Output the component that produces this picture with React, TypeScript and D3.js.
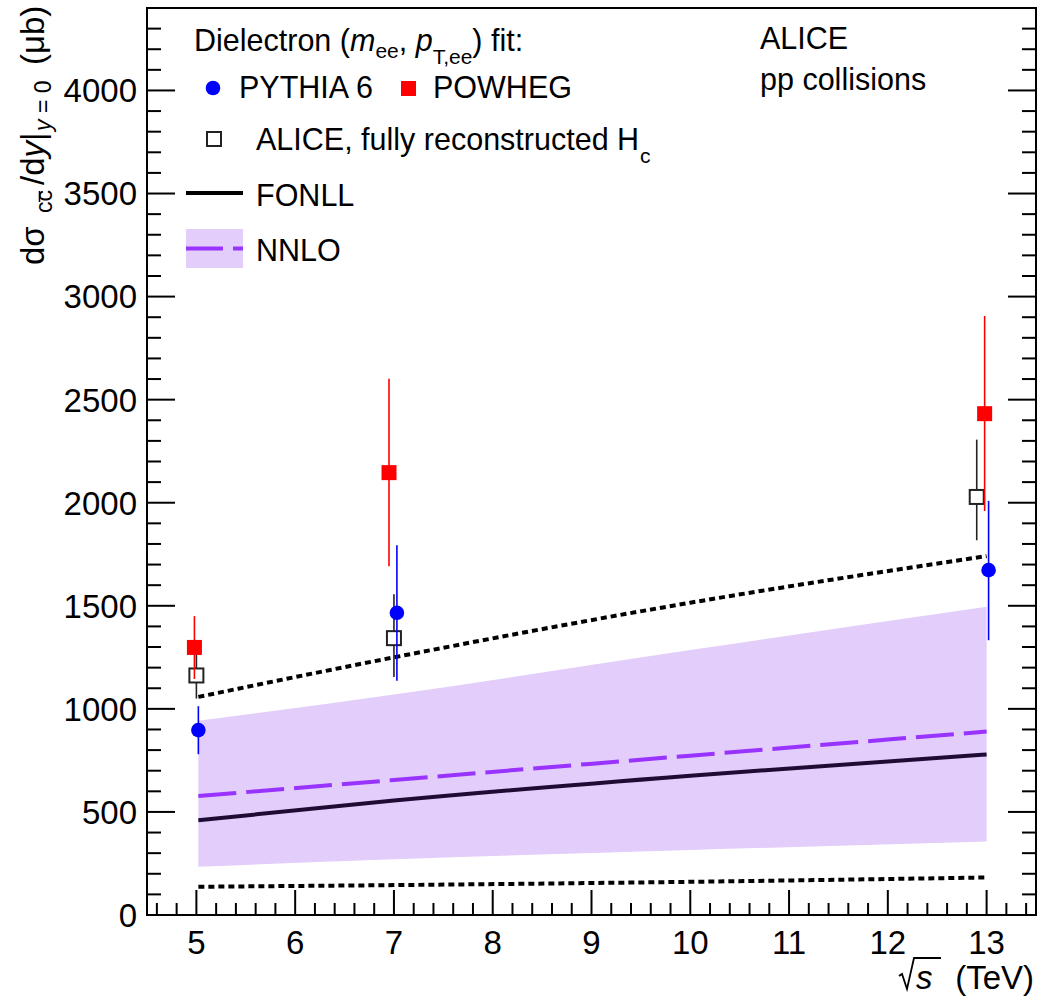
import React from "react";
import * as d3 from "d3";

// ---------- data ----------
const pythiaX = [5.02, 7.03, 13.02];
const pythiaY = [897, 1466, 1673];
const pythiaLo = [780, 1136, 1333];
const pythiaHi = [1013, 1794, 2009];

const powhegX = [4.98, 6.95, 12.98];
const powhegY = [1298, 2146, 2432];
const powhegLo = [1145, 1692, 1960];
const powhegHi = [1450, 2602, 2906];

const aliceX = [5.0, 7.0, 12.9];
const aliceY = [1162, 1343, 2028];
const aliceLo = [1050, 1155, 1818];
const aliceHi = [1301, 1556, 2306];

const theoryX = [5.02, 7, 10, 13];
const fonllCentral = [460, 555, 676, 779];
const fonllUpper = [1058, 1250, 1515, 1741];
const fonllLower = [137, 145, 161, 182];
const nnloCentral = [577, 655, 773, 890];
const nnloUpper = [942, 1070, 1285, 1495];
const nnloLower = [234, 270, 315, 357];

const yMajorTicks = [0, 500, 1000, 1500, 2000, 2500, 3000, 3500, 4000];
const xMajorTicks = [5, 6, 7, 8, 9, 10, 11, 12, 13];

// ---------- layout ----------
const W = 1041;
const H = 997;
const L = 147;
const R = 1036;
const T = 8;
const B = 915;
const FONT = "'Liberation Sans', Arial, Helvetica, sans-serif";
const LEG = 30.5;
const TICK = 33;

export default function App() {
  const x = d3.scaleLinear().domain([4.5, 13.5]).range([L, R]);
  const y = d3.scaleLinear().domain([0, 4400]).range([B, T]);

  const yMinor = d3.range(0, 4401, 100).filter((v) => v % 500 !== 0);
  const xMinor = d3
    .range(46, 135, 2)
    .map((v) => v / 10)
    .filter((v) => Math.abs(v - Math.round(v)) > 1e-6);

  const line = (ys: number[]) =>
    d3
      .line<number>()
      .curve(d3.curveMonotoneX)
      .x((_, i) => x(theoryX[i]))
      .y((v) => y(v))(ys) as string;
  const band = d3
    .area<number>()
    .curve(d3.curveMonotoneX)
    .x((_, i) => x(theoryX[i]))
    .y0((_, i) => y(nnloLower[i]))
    .y1((_, i) => y(nnloUpper[i]))(nnloUpper) as string;

  const errBars = (xs: number[], lo: number[], hi: number[], color: string, key: string) =>
    xs.map((xv, i) => (
      <line key={key + i} x1={x(xv)} x2={x(xv)} y1={y(lo[i])} y2={y(hi[i])} stroke={color} strokeWidth={1.6} />
    ));

  return (
    <svg
      width={W}
      height={H}
      style={{ position: "absolute", left: 0, top: 0, background: "#fff" }}
      fontFamily={FONT}
    >
      <rect x={0} y={0} width={W} height={H} fill="#fff" />

      {/* NNLO band */}
      <path d={band} fill="#e2cdfb" />
      {/* FONLL */}
      <path d={line(fonllUpper)} fill="none" stroke="#000" strokeWidth={4} strokeDasharray="6 4" />
      <path d={line(fonllLower)} fill="none" stroke="#000" strokeWidth={4} strokeDasharray="6 4" />
      <path d={line(fonllCentral)} fill="none" stroke="#1e0c34" strokeWidth={4} />
      {/* NNLO central */}
      <path d={line(nnloCentral)} fill="none" stroke="#9933ff" strokeWidth={4} strokeDasharray="38 10" />

      {/* ALICE */}
      {errBars(aliceX, aliceLo, aliceHi, "#222", "ae")}
      {aliceX.map((xv, i) => (
        <rect key={"a" + i} x={x(xv) - 7} y={y(aliceY[i]) - 7} width={14} height={14} fill="#fff" stroke="#222" strokeWidth={2} />
      ))}
      {/* PYTHIA */}
      {errBars(pythiaX, pythiaLo, pythiaHi, "#0000ff", "pe")}
      {pythiaX.map((xv, i) => (
        <circle key={"p" + i} cx={x(xv)} cy={y(pythiaY[i])} r={7.3} fill="#0000ff" />
      ))}
      {/* POWHEG */}
      {errBars(powhegX, powhegLo, powhegHi, "#ff0000", "we")}
      {powhegX.map((xv, i) => (
        <rect key={"w" + i} x={x(xv) - 7.5} y={y(powhegY[i]) - 7.5} width={15} height={15} fill="#ff0000" />
      ))}

      {/* axes frame */}
      <rect x={L} y={T} width={R - L} height={B - T} fill="none" stroke="#000" strokeWidth={2} />
      {yMajorTicks.map((v) => (
        <g key={"ym" + v}>
          <line x1={L} x2={L + 28} y1={y(v)} y2={y(v)} stroke="#000" strokeWidth={2} />
          <line x1={R} x2={R - 28} y1={y(v)} y2={y(v)} stroke="#000" strokeWidth={2} />
          <text x={137} y={y(v)} dy="0.36em" textAnchor="end" fontSize={TICK}>
            {v}
          </text>
        </g>
      ))}
      {yMinor.map((v) => (
        <g key={"yn" + v}>
          <line x1={L} x2={L + 14} y1={y(v)} y2={y(v)} stroke="#000" strokeWidth={2} />
          <line x1={R} x2={R - 14} y1={y(v)} y2={y(v)} stroke="#000" strokeWidth={2} />
        </g>
      ))}
      {xMajorTicks.map((v) => (
        <g key={"xm" + v}>
          <line x1={x(v)} x2={x(v)} y1={B} y2={B - 25} stroke="#000" strokeWidth={2} />
          <text x={x(v)} y={954} textAnchor="middle" fontSize={TICK}>
            {v}
          </text>
        </g>
      ))}
      {xMinor.map((v) => (
        <line key={"xn" + v} x1={x(v)} x2={x(v)} y1={B} y2={B - 12} stroke="#000" strokeWidth={2} />
      ))}

      {/* x title: sqrt(s) (TeV) */}
      <path d="M899,976 L902,974 L907,989 L914,958 L941,958" fill="none" stroke="#000" strokeWidth={1.8} />
      <text x={916} y={989} fontSize={TICK} fontStyle="italic">s</text>
      <text x={1034} y={989} textAnchor="end" fontSize={TICK}>(TeV)</text>

      {/* y title */}
      <text transform="translate(44,265) rotate(-90)" fontSize={33}>
        <tspan x={0} y={0}>dσ</tspan>
        <tspan x={52} y={8} fontSize={23}>cc</tspan>
        <tspan x={80} y={0}>/d</tspan>
        <tspan fontStyle="italic">y</tspan>
        <tspan>|</tspan>
        <tspan x={134} y={7} fontSize={23} fontStyle="italic">y</tspan>
        <tspan fontSize={23}> = 0</tspan>
        <tspan x={200} y={0}>(μb)</tspan>
      </text>
      {/* overline for anti-charm */}
      <line x1={39.5} x2={39.5} y1={202} y2={191} stroke="#000" strokeWidth={1.5} />

      {/* legend */}
      <text x={194} y={51} fontSize={LEG}>
        <tspan>Dielectron (</tspan>
        <tspan fontStyle="italic">m</tspan>
        <tspan fontSize={21} dy={7}>ee</tspan>
        <tspan dy={-7}>, </tspan>
        <tspan fontStyle="italic">p</tspan>
        <tspan fontSize={21} dy={13}>T,ee</tspan>
        <tspan dy={-13}>) fit:</tspan>
      </text>
      <circle cx={213} cy={88} r={7.3} fill="#0000ff" />
      <text x={239} y={98} fontSize={LEG}>PYTHIA 6</text>
      <rect x={401} y={81} width={15} height={15} fill="#ff0000" />
      <text x={433} y={98} fontSize={LEG}>POWHEG</text>
      <rect x={207} y={132} width={14} height={14} fill="#fff" stroke="#222" strokeWidth={2} />
      <text x={256} y={150} fontSize={LEG}>
        <tspan>ALICE, fully reconstructed H</tspan>
        <tspan fontSize={21} dy={13} dx={1}>c</tspan>
      </text>
      <line x1={186} x2={243} y1={193} y2={193} stroke="#000" strokeWidth={4} />
      <text x={256} y={206} fontSize={LEG}>FONLL</text>
      <rect x={186} y={229} width={57} height={39} fill="#e2cdfb" />
      <line x1={186} x2={243} y1={248.5} y2={248.5} stroke="#9933ff" strokeWidth={4} strokeDasharray="37 10" />
      <text x={256} y={261} fontSize={LEG}>NNLO</text>

      <text x={760} y={49} fontSize={LEG}>ALICE</text>
      <text x={760} y={90} fontSize={LEG}>pp collisions</text>
    </svg>
  );
}
